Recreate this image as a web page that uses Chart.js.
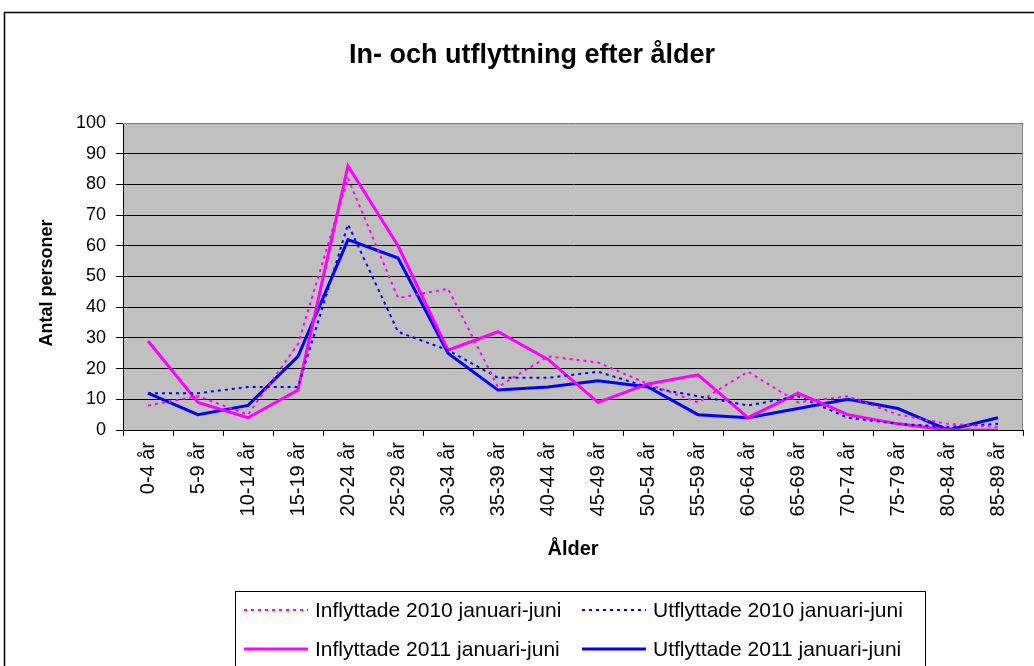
<!DOCTYPE html>
<html>
<head>
<meta charset="utf-8">
<script src="https://cdn.jsdelivr.net/npm/chart.js@4/dist/chart.umd.min.js"></script>
<style>
  html, body { margin: 0; padding: 0; background: #fff; }
  #wrap { width: 1034px; height: 666px; }
</style>
</head>
<body>
<div id="wrap"><canvas id="graf" width="1034" height="666"></canvas></div>
<script>
const kategorier = ['0-4 år', '5-9 år', '10-14 år', '15-19 år', '20-24 år', '25-29 år', '30-34 år', '35-39 år', '40-44 år',
  '45-49 år', '50-54 år', '55-59 år', '60-64 år', '65-69 år', '70-74 år', '75-79 år', '80-84 år', '85-89 år'];
const inflyttade2010 = [8, 11, 5, 28, 82, 43, 46, 14, 24, 22, 15, 9, 19, 9, 11, 5, 2, 1];
const utflyttade2010 = [12, 12, 14, 14, 67, 32, 26, 17, 17, 19, 14, 11, 8, 11, 4, 2, 1, 2];
const inflyttade2011 = [29, 9, 4, 13, 86, 60, 26, 32, 23, 9, 15, 18, 4, 12, 5, 2, 0, 0];
const utflyttade2011 = [12, 5, 8, 24, 62, 56, 25, 13, 14, 16, 14, 5, 4, 7, 10, 7, 0, 4];
const yTicks = [0, 10, 20, 30, 40, 50, 60, 70, 80, 90, 100];

const FONT = '"Liberation Sans", Arial, sans-serif';

// bakgrund, ram, titlar och egen legend
const ramPlugin = {
  id: 'ram',
  beforeDraw(chart) {
    const c = chart.ctx, a = chart.chartArea;
    c.save();
    c.fillStyle = '#C0C0C0';
    c.fillRect(a.left, a.top, a.right - a.left, a.bottom - a.top);
    c.restore();
  },
  afterDraw(chart) {
    const c = chart.ctx, a = chart.chartArea;
    c.save();
    c.strokeStyle = '#808080';
    c.lineWidth = 1;
    c.beginPath();
    c.moveTo(a.left, a.top + 0.5);
    c.lineTo(a.right - 0.5, a.top + 0.5);
    c.lineTo(a.right - 0.5, a.bottom);
    c.stroke();
    // yttre ram
    c.strokeStyle = '#000';
    c.lineWidth = 1.5;
    c.strokeRect(4.5, 12.5, 1040, 700);
    // titel
    c.fillStyle = '#000';
    c.font = 'bold 27px ' + FONT;
    c.textAlign = 'center';
    c.textBaseline = 'alphabetic';
    c.fillText('In- och utflyttning efter ålder', 532, 63);
    // axeltitlar
    c.font = 'bold 20px ' + FONT;
    c.textBaseline = 'middle';
    c.fillText('Ålder', (a.left + a.right) / 2, 549);
    c.save();
    c.translate(47, 283);
    c.rotate(-Math.PI / 2);
    c.font = 'bold 18px ' + FONT;
    c.fillText('Antal personer', 0, 0);
    c.restore();
    // legend
    c.lineWidth = 1;
    c.strokeStyle = '#000';
    c.strokeRect(235.5, 591.5, 690, 90);
    const items = chart.data.datasets;
    const pos = [[244, 610], [582, 610], [244, 649], [582, 649]];
    c.font = '21px ' + FONT;
    c.textAlign = 'left';
    items.forEach((ds, i) => {
      const [x, y] = pos[i];
      c.beginPath();
      c.strokeStyle = ds.borderColor;
      c.lineWidth = ds.borderWidth;
      c.setLineDash(ds.borderDash || []);
      c.moveTo(x, y);
      c.lineTo(x + 64, y);
      c.stroke();
      c.setLineDash([]);
      c.fillStyle = '#000';
      c.fillText(ds.label, x + 71, y + 1);
    });
    c.restore();
  }
};

new Chart(document.getElementById('graf').getContext('2d'), {
  type: 'line',
  data: {
    labels: kategorier,
    datasets: [
      { label: 'Inflyttade 2010 januari-juni', data: inflyttade2010, borderColor: '#FF00FF', borderWidth: 2, borderDash: [3, 4] },
      { label: 'Utflyttade 2010 januari-juni', data: utflyttade2010, borderColor: '#0000FF', borderWidth: 2, borderDash: [3, 4] },
      { label: 'Inflyttade 2011 januari-juni', data: inflyttade2011, borderColor: '#FF00FF', borderWidth: 3 },
      { label: 'Utflyttade 2011 januari-juni', data: utflyttade2011, borderColor: '#0000FF', borderWidth: 3 }
    ]
  },
  options: {
    responsive: false,
    animation: false,
    elements: { point: { radius: 0 }, line: { tension: 0 } },
    layout: { padding: { left: 0, top: 123, right: 11, bottom: 0 } },
    plugins: {
      legend: { display: false },
      title: { display: false },
      tooltip: { enabled: false }
    },
    scales: {
      x: {
        offset: true,
        afterFit(s) { s.height = 236; },
        grid: { offset: true, drawOnChartArea: false, drawTicks: true, tickLength: 6, color: '#000' },
        border: { color: '#000', width: 1 },
        ticks: { minRotation: 90, maxRotation: 90, autoSkip: false, color: '#000', font: { family: FONT, size: 20 }, padding: 6 }
      },
      y: {
        min: 0,
        max: 100,
        afterFit(s) { s.width = 123; },
        afterBuildTicks(s) { s.ticks = yTicks.map(v => ({ value: v })); },
        grid: { color: '#000', lineWidth: 1, tickLength: 7, drawTicks: true },
        border: { color: '#000', width: 1 },
        ticks: { color: '#000', font: { family: FONT, size: 18 }, padding: 10 }
      }
    }
  },
  plugins: [ramPlugin]
});
</script>
</body>
</html>
